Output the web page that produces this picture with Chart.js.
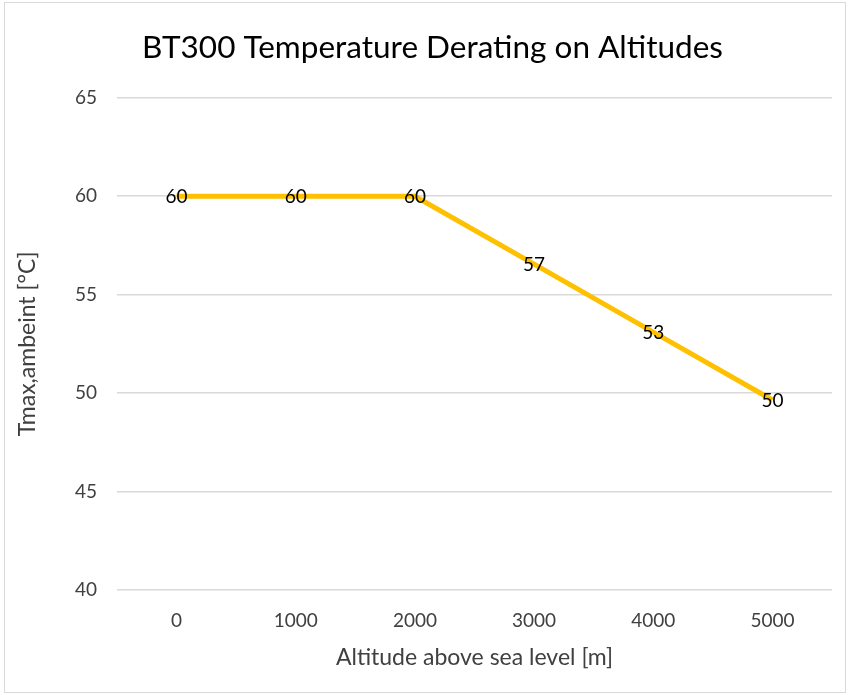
<!DOCTYPE html>
<html>
<head>
<meta charset="utf-8">
<script src="https://cdn.jsdelivr.net/npm/chart.js@4"></script>
<style>
  html, body { margin: 0; padding: 0; background: #fff; }
  #wrap { position: relative; width: 850px; height: 695px; }
  #frame { position: absolute; left: 4px; top: 2px; width: 840px; height: 689px; border: 1px solid #d9d9d9; pointer-events: none; }
</style>
</head>
<body>
<div id="wrap">
  <canvas id="deratingChart" width="850" height="695"></canvas>
  <div id="frame"></div>
</div>
<script>
// data
const altitudes = ['0', '1000', '2000', '3000', '4000', '5000'];
const tmaxAmbient = [60, 60, 60, 56.55, 53.1, 49.65];
const yTicks = [40, 45, 50, 55, 60, 65];

const fontFamily = "Lato, 'Open Sans', sans-serif";

// label angka di tiap titik (dibulatkan seperti di Excel)
const pointLabels = {
    id: 'pointLabels',
    afterLayout(chart) {
        // geser judul sedikit ke kanan, seperti di gambar
        if (chart.titleBlock) chart.titleBlock.left += 33;
    },
    afterDatasetsDraw(chart) {
        const ctx = chart.ctx;
        const meta = chart.getDatasetMeta(0);
        ctx.save();
        ctx.font = "19px " + fontFamily;
        ctx.fillStyle = '#000';
        ctx.textAlign = 'center';
        ctx.textBaseline = 'middle';
        meta.data.forEach((pt, i) => {
            ctx.fillText(Math.round(tmaxAmbient[i]), pt.x, pt.y + 1);
        });
        ctx.restore();
    }
};

const ctx = document.getElementById('deratingChart').getContext('2d');
new Chart(ctx, {
    type: 'line',
    data: {
        labels: altitudes,
        datasets: [{
            label: 'Tmax,ambeint',
            data: tmaxAmbient,
            borderColor: '#FFC000',
            borderWidth: 5,
            pointRadius: 0,
            tension: 0
        }]
    },
    options: {
        responsive: false,
        animation: false,
        layout: { padding: { top: 4, right: 18, bottom: 0, left: 0 } },
        plugins: {
            legend: { display: false },
            tooltip: { enabled: false },
            title: {
                display: true,
                text: 'BT300 Temperature Derating on Altitudes',
                color: '#000',
                font: { family: fontFamily, size: 31.5, weight: 'normal' },
                padding: { top: 25, bottom: 31 }
            }
        },
        scales: {
            x: {
                offset: true,
                grid: { display: false, drawTicks: false },
                border: { display: false },
                ticks: {
                    color: '#404040',
                    font: { family: fontFamily, size: 19 },
                    padding: 19
                },
                title: {
                    display: true,
                    text: 'Altitude above sea level [m]',
                    color: '#404040',
                    font: { family: fontFamily, size: 23 },
                    padding: { top: 6, bottom: 24 }
                },
                afterFit(scale) { scale.height = 105; }
            },
            y: {
                min: 40,
                max: 65,
                afterBuildTicks(scale) { scale.ticks = yTicks.map(v => ({ value: v })); },
                grid: { color: '#d9d9d9', lineWidth: 1.5, drawTicks: false },
                border: { display: false },
                ticks: {
                    color: '#404040',
                    font: { family: fontFamily, size: 19 },
                    padding: 20
                },
                title: {
                    display: true,
                    text: 'Tmax,ambeint [°C]',
                    color: '#404040',
                    font: { family: fontFamily, size: 23 },
                    padding: { top: 14, bottom: 8 }
                },
                afterFit(scale) { scale.width = 117; }
            }
        }
    },
    plugins: [pointLabels]
});
</script>
</body>
</html>
